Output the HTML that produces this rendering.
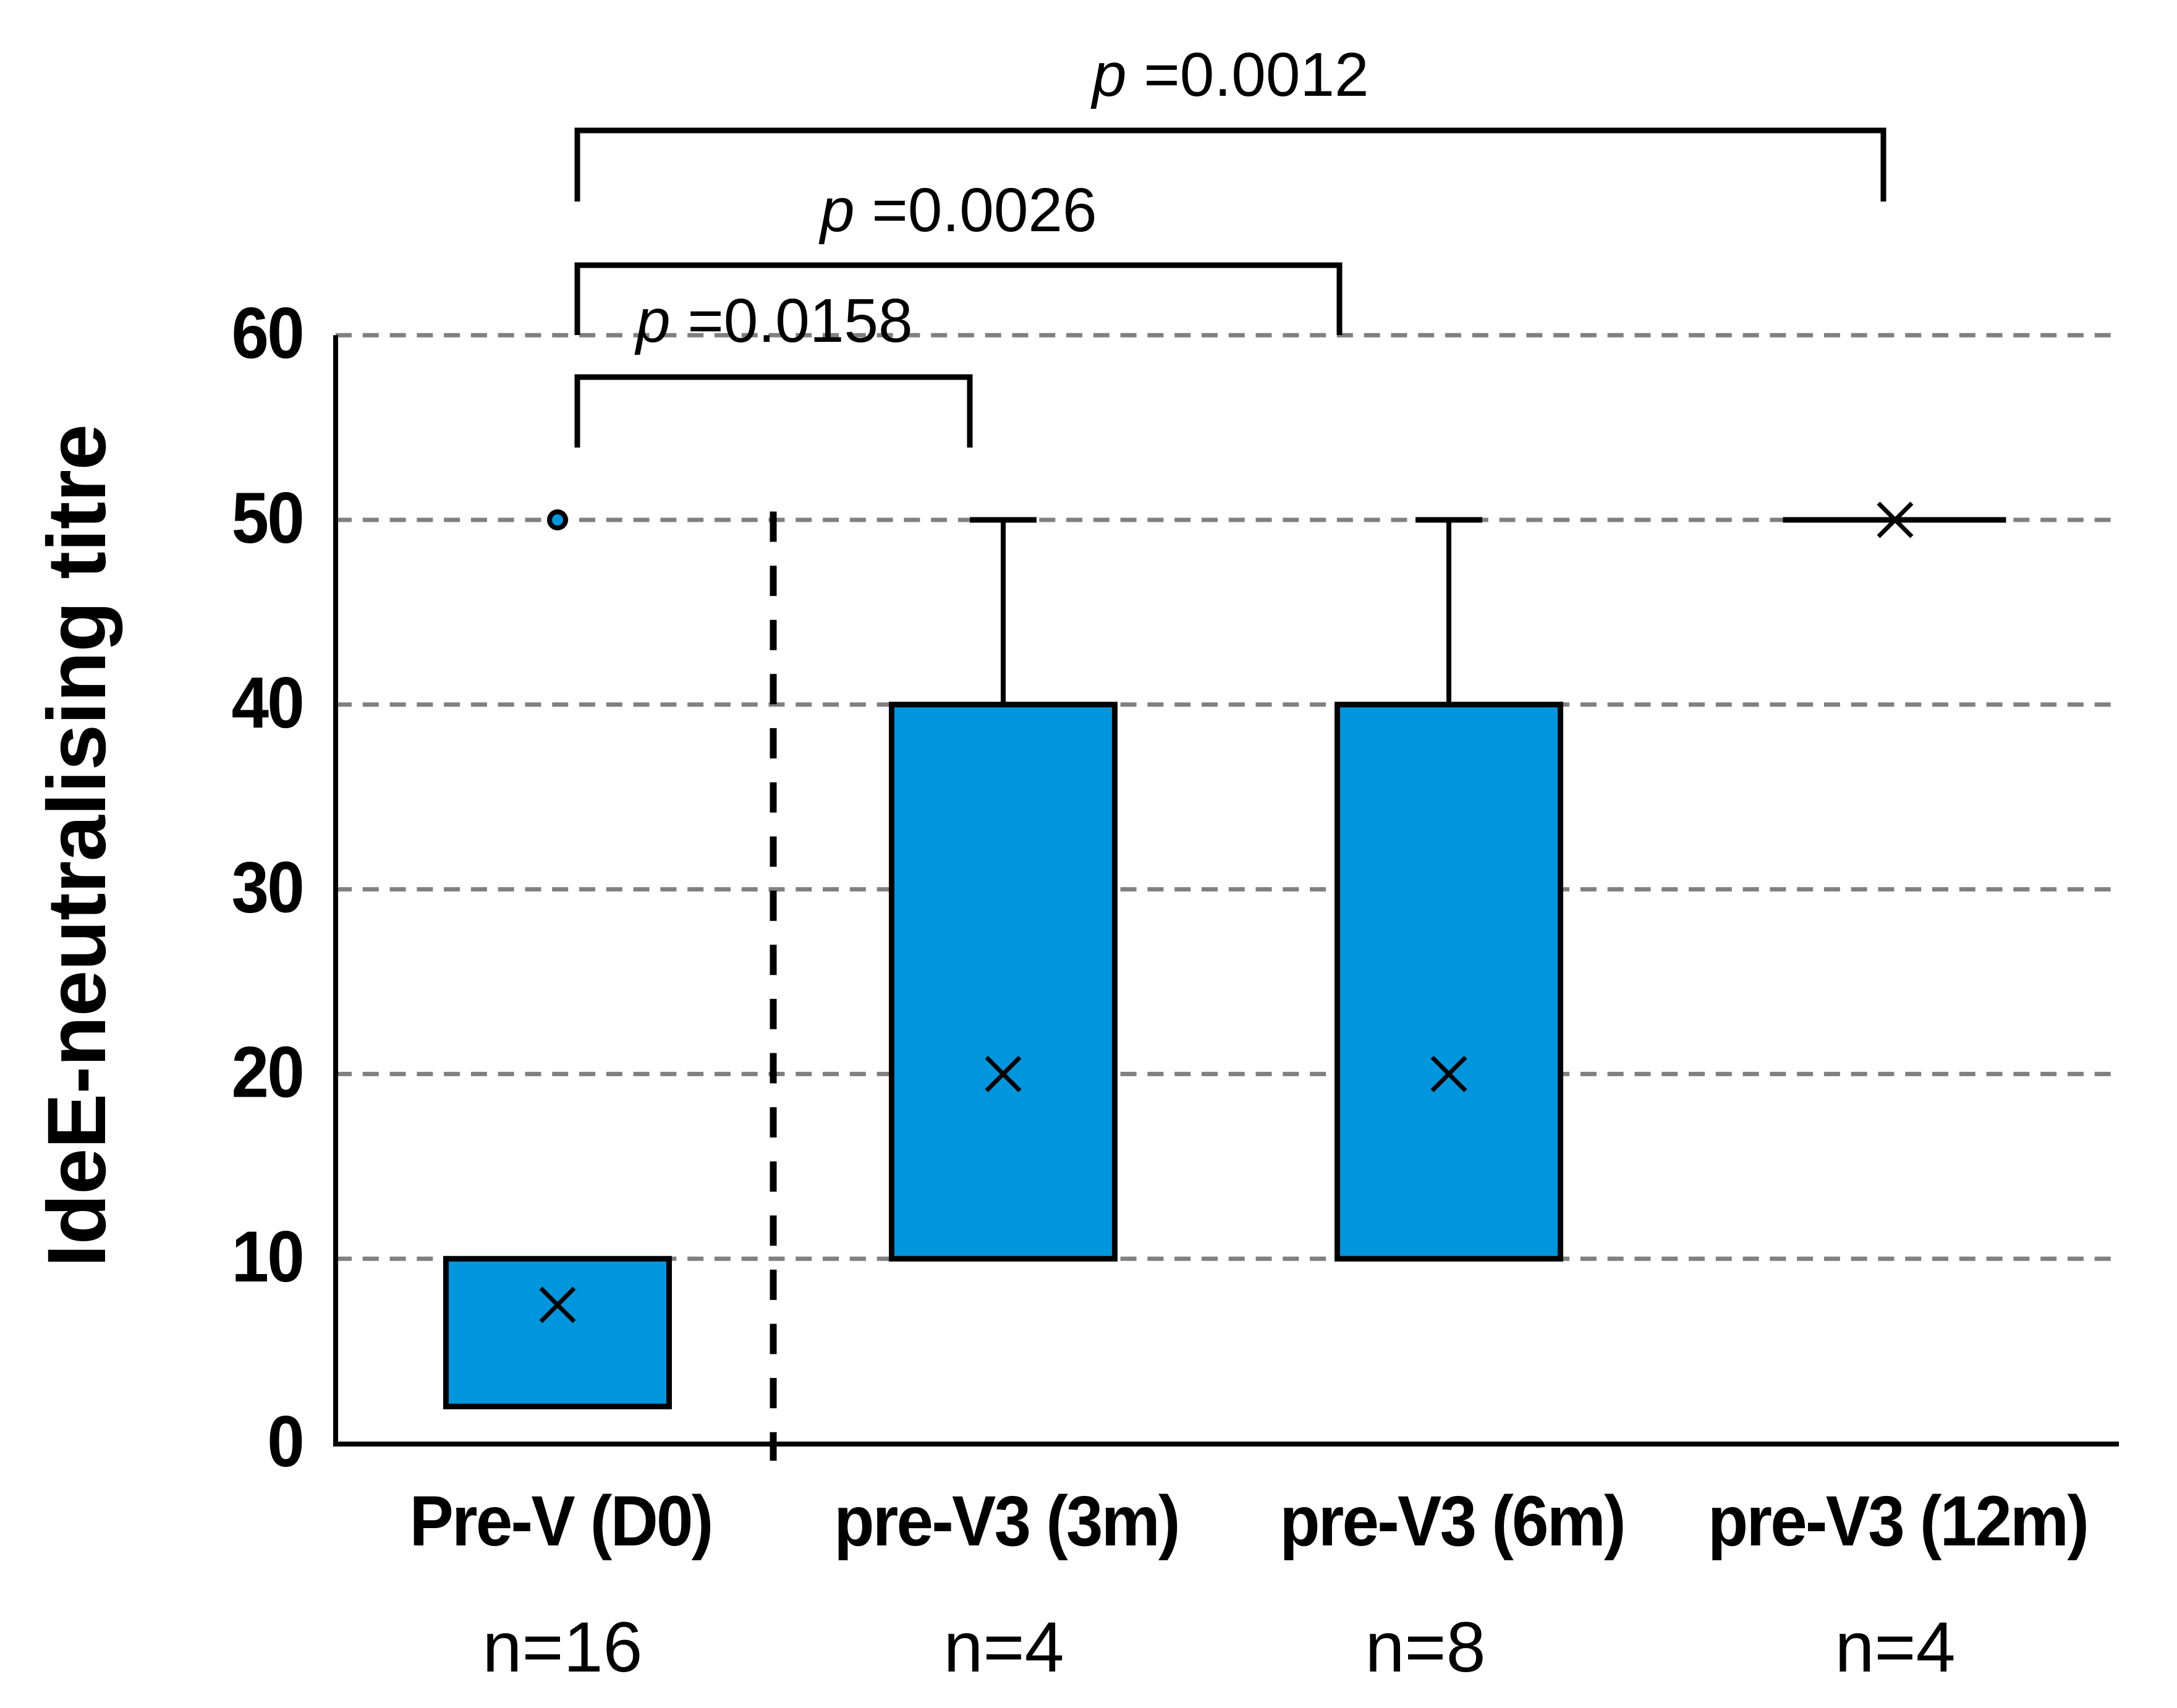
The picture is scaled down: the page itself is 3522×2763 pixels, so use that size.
<!DOCTYPE html>
<html lang="en">
<head>
<meta charset="utf-8">
<title>IdeE-neutralising titre box plot</title>
<style>
html,body{margin:0;padding:0;background:#fff;}
svg{display:block;}
text{font-family:"Liberation Sans",Arial,sans-serif;fill:#000;}
</style>
</head>
<body>
<svg id="chart" xmlns="http://www.w3.org/2000/svg" width="3522" height="2763" viewBox="0 0 3522 2763">
  <rect x="0" y="0" width="3522" height="2763" fill="#ffffff"/>
  <g id="grid"></g>
  <g id="marks"></g>
  <g id="axes"></g>
  <line x1="1251" y1="827.5" x2="1251" y2="2363" stroke="#000" stroke-width="11" stroke-dasharray="49 38.6"/>
  <text transform="translate(170,2050) rotate(-90)" font-size="134" font-weight="700" textLength="1364" lengthAdjust="spacing">IdeE-neutralising titre</text>
  <g fill="none" stroke="#000" stroke-width="9">
    <path d="M934 326V211H3047V326"/>
    <path d="M934 542V429H2167V542"/>
    <path d="M934 724V610H1569V724"/>
  </g>
  <text x="1767" y="155" font-size="100"><tspan font-style="italic">p</tspan> =0.0012</text>
  <text x="1327" y="374" font-size="100"><tspan font-style="italic">p</tspan> =0.0026</text>
  <text x="1029" y="553" font-size="100"><tspan font-style="italic">p</tspan> =0.0158</text>
</svg>
<script>
const categories = ["Pre-V (D0)", "pre-V3 (3m)", "pre-V3 (6m)", "pre-V3 (12m)"];
const sampleLabels = ["n=16", "n=4", "n=8", "n=4"];
const q1Values = [2, 10, 10, 50];
const q3Values = [10, 40, 40, 50];
const whiskerHighValues = [10, 50, 50, 50];
const meanValues = [7.5, 20, 20, 50];
const outlierValues = [50, null, null, null];
const yTicks = [0, 10, 20, 30, 40, 50, 60];

const NS = "http://www.w3.org/2000/svg";
function x(i) { return 902 + 721 * i; }
function y(v) { return 2335 - 29.88 * v; }
function add(parent, tag, attrs, txt) {
  const el = document.createElementNS(NS, tag);
  for (const k in attrs) el.setAttribute(k, attrs[k]);
  if (txt !== undefined) el.textContent = txt;
  parent.appendChild(el);
  return el;
}
const grid = document.getElementById("grid");
const marks = document.getElementById("marks");
const axes = document.getElementById("axes");

yTicks.forEach(function (t) {
  if (t > 0) {
    const line = add(grid, "line", { x1: 543, x2: 3416, y1: y(t), y2: y(t), stroke: "#808080", "stroke-width": 7, "stroke-dasharray": "26 17.78" });
    
    
  }
  const label = add(axes, "text", { transform: "translate(490," + (y(t) + 37) + ") scale(0.93,1)", "text-anchor": "end", "font-size": 117, "font-weight": 700, "letter-spacing": -3 }, String(t));
  
  
});

const yAxis = add(axes, "line", { x1: 543, x2: 543, y1: y(60), y2: y(0) + 5, stroke: "#000", "stroke-width": 8 });



const xAxis = add(axes, "line", { x1: 540, x2: 3428, y1: y(0) + 1, y2: y(0) + 1, stroke: "#000", "stroke-width": 8 });



const boxHalf = 180.5;
const capHalf = 54;
const markHalf = 27;
const nOffsets = [8, 1, -38, 1];

categories.forEach(function (name, i) {
  const cx = x(i);
  if (whiskerHighValues[i] > q3Values[i]) {
    const whisker = add(marks, "line", { x1: cx, x2: cx, y1: y(q3Values[i]), y2: y(whiskerHighValues[i]), stroke: "#000", "stroke-width": 8 });
    
    
    const cap = add(marks, "line", { x1: cx - capHalf, x2: cx + capHalf, y1: y(whiskerHighValues[i]), y2: y(whiskerHighValues[i]), stroke: "#000", "stroke-width": 9 });
    
    
  }
  const top = y(q3Values[i]);
  const bottom = y(q1Values[i]);
  const box = add(marks, "path", {
    d: "M" + (cx - boxHalf) + " " + top + "H" + (cx + boxHalf) + "V" + bottom + "H" + (cx - boxHalf) + "Z",
    fill: "#0096DE", stroke: "#000", "stroke-width": 9, "stroke-linejoin": "miter"
  });
  
  

  const mx = cx + (i === 3 ? 1 : 0);
  const my = y(meanValues[i]);
  const mean = add(marks, "path", {
    d: "M" + (mx - markHalf) + " " + (my - markHalf) + "L" + (mx + markHalf) + " " + (my + markHalf) + "M" + (mx - markHalf) + " " + (my + markHalf) + "L" + (mx + markHalf) + " " + (my - markHalf),
    fill: "none", stroke: "#000", "stroke-width": 7
  });
  
  

  if (outlierValues[i] !== null) {
    const dot = add(marks, "circle", { cx: cx, cy: y(outlierValues[i]), r: 13, fill: "#0096DE", stroke: "#000", "stroke-width": 8 });
    
    
  }

  const catLabel = add(axes, "text", { transform: "translate(" + (cx + 5) + ",2500) scale(0.93,1)", "text-anchor": "middle", "font-size": 115, "font-weight": 700, "letter-spacing": -3 }, name);
  
  

  const nLabel = add(axes, "text", { x: cx + nOffsets[i], y: 2704, "text-anchor": "middle", "font-size": 115 }, sampleLabels[i]);
  
  
});
</script>
</body>
</html>
